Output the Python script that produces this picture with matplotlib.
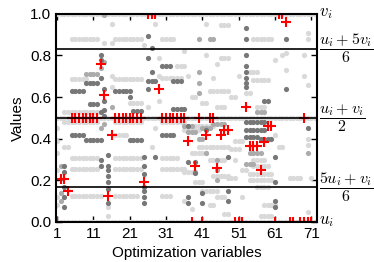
import numpy as np
import matplotlib
matplotlib.use('Agg')
import matplotlib.pyplot as plt

plt.rcParams['mathtext.fontset'] = 'cm'
plt.rcParams['font.family'] = 'Liberation Sans'

# runs of points: (first variable, last variable, value)
light_runs = [
    (1, 72, 1.0), (1, 72, 0.5), (1, 72, 0.0),
    # block 5-12
    (5, 12, 0.88), (5, 9, 0.687), (3, 12, 0.53), (3, 12, 0.48), (5, 12, 0.307),
    (5, 12, 0.255), (5, 13, 0.125), (3, 4, 0.36),
    # block 17-24
    (17, 24, 0.88), (17, 24, 0.687), (21, 24, 0.57), (17, 24, 0.48), (17, 20, 0.418),
    (17, 24, 0.307), (17, 24, 0.255), (17, 23, 0.125),
    # block 30-36
    (30, 33, 0.88), (34, 36, 0.75), (30, 35, 0.69), (30, 36, 0.48), (30, 34, 0.307),
    (30, 36, 0.255), (30, 32, 0.125),
    # single variables
    (1, 1, 0.45), (1, 1, 0.39), (1, 1, 0.33), (1, 1, 0.25), (1, 1, 0.12), (1, 1, 0.08),
    (14, 14, 0.86), (16, 16, 0.95), (16, 16, 0.86), (16, 16, 0.70), (16, 16, 0.65),
    (15, 15, 0.03), (15, 15, 0.07), (25, 25, 0.85), (29, 29, 0.79), (29, 29, 0.70),
    (29, 29, 0.58), (28, 28, 0.95), (26, 26, 0.55), (27, 27, 0.36), (28, 28, 0.45),
    (36, 36, 0.82), (42, 42, 0.95), (46, 48, 0.947), (55, 55, 0.88), (56, 57, 0.88),
    (58, 60, 0.88), (70, 70, 0.88), (70, 70, 0.91), (42, 42, 0.80), (46, 48, 0.79),
    (45, 45, 0.76), (37, 37, 0.70), (44, 44, 0.69), (43, 48, 0.63), (54, 56, 0.72),
    (63, 63, 0.80), (70, 70, 0.66), (64, 64, 0.81), (64, 64, 0.73), (61, 61, 0.78),
    (69, 69, 0.80), (69, 69, 0.70), (53, 54, 0.62), (55, 59, 0.68), (56, 58, 0.55),
    (38, 39, 0.60), (41, 42, 0.57), (45, 47, 0.55), (49, 50, 0.60), (51, 51, 0.70),
    # lower right
    (38, 44, 0.46), (36, 40, 0.44), (40, 48, 0.36), (38, 42, 0.33), (43, 47, 0.30),
    (36, 38, 0.24), (44, 48, 0.22), (39, 41, 0.19), (41, 45, 0.15), (45, 47, 0.12),
    (36, 36, 0.10), (50, 52, 0.39), (49, 51, 0.35), (50, 50, 0.30), (52, 53, 0.25),
    (55, 58, 0.30), (55, 59, 0.27), (54, 60, 0.23), (54, 60, 0.20), (56, 59, 0.17),
    (57, 60, 0.03), (58, 61, 0.08), (48, 50, 0.21), (65, 68, 0.21), (71, 71, 0.21),
    (70, 70, 0.05), (70, 70, 0.40), (70, 70, 0.37), (52, 52, 0.12), (38, 38, 0.06),
    (43, 44, 0.08), (47, 48, 0.04), (62, 63, 0.36), (61, 61, 0.42),
]

mid_runs = [
    (9, 12, 0.71), (14, 14, 0.995), (14, 14, 0.77), (13, 13, 0.74), (16, 16, 0.55),
    (14, 14, 0.47), (13, 13, 0.45), (2, 2, 0.27), (2, 2, 0.14), (2, 2, 0.10),
    (40, 40, 0.88), (43, 44, 0.88), (40, 40, 0.72), (40, 40, 0.67), (40, 40, 0.62),
    (36, 38, 0.46), (41, 43, 0.45), (44, 47, 0.47), (37, 39, 0.43), (40, 41, 0.40),
    (45, 45, 0.30), (45, 45, 0.25), (45, 45, 0.20), (39, 39, 0.24), (42, 42, 0.33),
    (54, 57, 0.33), (53, 55, 0.28), (70, 70, 0.33), (56, 58, 0.53),
]

dark_runs = [
    (9, 12, 0.67), (5, 8, 0.63), (10, 12, 0.567), (5, 8, 0.418), (9, 13, 0.395),
    (17, 21, 0.63), (21, 21, 0.60), (22, 24, 0.535), (21, 24, 0.395),
    (30, 32, 0.75), (33, 35, 0.675), (33, 36, 0.545), (30, 33, 0.418),
    (13, 13, 0.80), (13, 13, 0.78), (13, 13, 0.69), (13, 13, 0.53), (13, 13, 0.30),
    (13, 13, 0.27), (14, 14, 0.64), (14, 14, 0.58), (14, 14, 0.54), (14, 14, 0.51),
    (3, 3, 0.27), (3, 3, 0.24), (3, 3, 0.17), (3, 3, 0.12), (3, 3, 0.07),
    (15, 15, 0.32), (15, 15, 0.27), (15, 15, 0.25), (15, 15, 0.22), (15, 15, 0.19),
    (15, 15, 0.16), (15, 15, 0.09),
    (25, 25, 0.31), (25, 25, 0.27), (25, 25, 0.23), (25, 25, 0.17), (25, 25, 0.15),
    (25, 25, 0.12), (25, 25, 0.09),
    (26, 26, 0.894), (26, 26, 0.79), (26, 26, 0.64), (27, 27, 0.836), (27, 27, 0.72),
    (26, 28, 0.675), (28, 28, 0.31), (37, 37, 0.12), (37, 37, 0.09), (37, 37, 0.29),
    (53, 53, 0.93), (53, 53, 0.88), (53, 53, 0.80), (53, 53, 0.75), (53, 53, 0.72),
    (53, 53, 0.69), (53, 53, 0.67), (53, 53, 0.65), (64, 64, 0.88), (64, 64, 0.64),
    (58, 59, 0.58), (41, 41, 0.14), (41, 41, 0.09), (48, 48, 0.31), (48, 48, 0.15),
    (48, 48, 0.10), (61, 61, 0.31), (61, 61, 0.19), (61, 61, 0.10), (61, 61, 0.07),
    (70, 70, 0.45), (53, 58, 0.48), (53, 58, 0.44), (53, 56, 0.41), (57, 60, 0.40),
    (39, 39, 0.29), (39, 39, 0.235), (42, 42, 0.44), (37, 37, 0.46),
]

# red markers: solution values
sol_x = [1, 2, 3, 4, 5, 6, 7, 8, 9, 10, 11, 12, 13, 14, 15, 16,
         17, 18, 19, 20, 21, 22, 23, 24, 25, 26, 27, 28, 29,
         30, 31, 32, 33, 34, 35, 36, 37, 38, 39, 40, 41, 42, 43, 44, 45, 46, 47, 48,
         50, 51, 52, 53, 54, 55, 56, 57, 58, 59, 60, 61, 62, 63, 64,
         65, 66, 68, 69, 70, 71, 69]
sol_y = [0.0, 0.205, 0.205, 0.149, 0.5, 0.5, 0.5, 0.5, 0.5, 0.5, 0.5, 0.5, 0.76, 0.61, 0.125, 0.42,
         0.5, 0.5, 0.5, 0.5, 0.5, 0.5, 0.5, 0.5, 0.19, 1.0, 1.0, 1.0, 0.64,
         0.5, 0.5, 0.5, 0.5, 0.5, 0.5, 0.5, 0.39, 0.0, 0.27, 0.5, 0.0, 0.42, 0.5, 0.5, 0.26, 0.42, 0.44, 0.44,
         0.0, 0.0, 0.0, 0.55, 0.365, 0.365, 0.365, 0.25, 0.385, 0.46, 0.46, 0.0, 1.0, 1.0, 0.96,
         0.0, 0.0, 0.0, 0.0, 0.0, 0.0, 0.5]

levels = [1/6, 1/2, 5/6]
right_labels = [(1.0, r'$v_i$'), (5/6, r'$\dfrac{u_i+5v_i}{6}$'), (1/2, r'$\dfrac{u_i+v_i}{2}$'),
                (1/6, r'$\dfrac{5u_i+v_i}{6}$'), (0.0, r'$u_i$')]
xticks = [1, 11, 21, 31, 41, 51, 61, 71]


def expand(runs):
    xs, ys = [], []
    for a, b, v in runs:
        for k in range(a, b + 1):
            xs.append(k)
            ys.append(v)
    return xs, ys


fig = plt.figure(figsize=(3.74, 2.62), dpi=100)
ax = fig.add_axes([0.150, 0.153, 0.698, 0.794])

for runs, col in [(light_runs, '#d9d9d9'), (mid_runs, '#ababab'), (dark_runs, '#777777')]:
    xs, ys = expand(runs)
    ax.scatter(xs, ys, s=14, color=col, linewidths=0, zorder=2)

ax.plot(sol_x, sol_y, '+', color='red', ms=7, mew=1.5, linestyle='none', zorder=3)

for lv in levels:
    ax.axhline(lv, color='black', lw=1.2, zorder=4)

for v, lab in right_labels:
    size = 12 if 'frac' not in lab else 11.5
    ax.text(1.008, v, lab, transform=ax.get_yaxis_transform(), ha='left', va='center', fontsize=size)

ax.set_xlim(0.7, 72.6)
ax.set_ylim(0, 1)
ax.set_xticks(xticks)
ax.set_yticks([0.0, 0.2, 0.4, 0.6, 0.8, 1.0])
ax.tick_params(direction='in', top=True, right=True, labelsize=11, length=4, width=1)
for sp in ax.spines.values():
    sp.set_linewidth(1.5)
    sp.set_zorder(5)
ax.set_xlabel('Optimization variables', fontsize=11)
ax.set_ylabel('Values', fontsize=11)

fig.savefig('out.png', dpi=100)
